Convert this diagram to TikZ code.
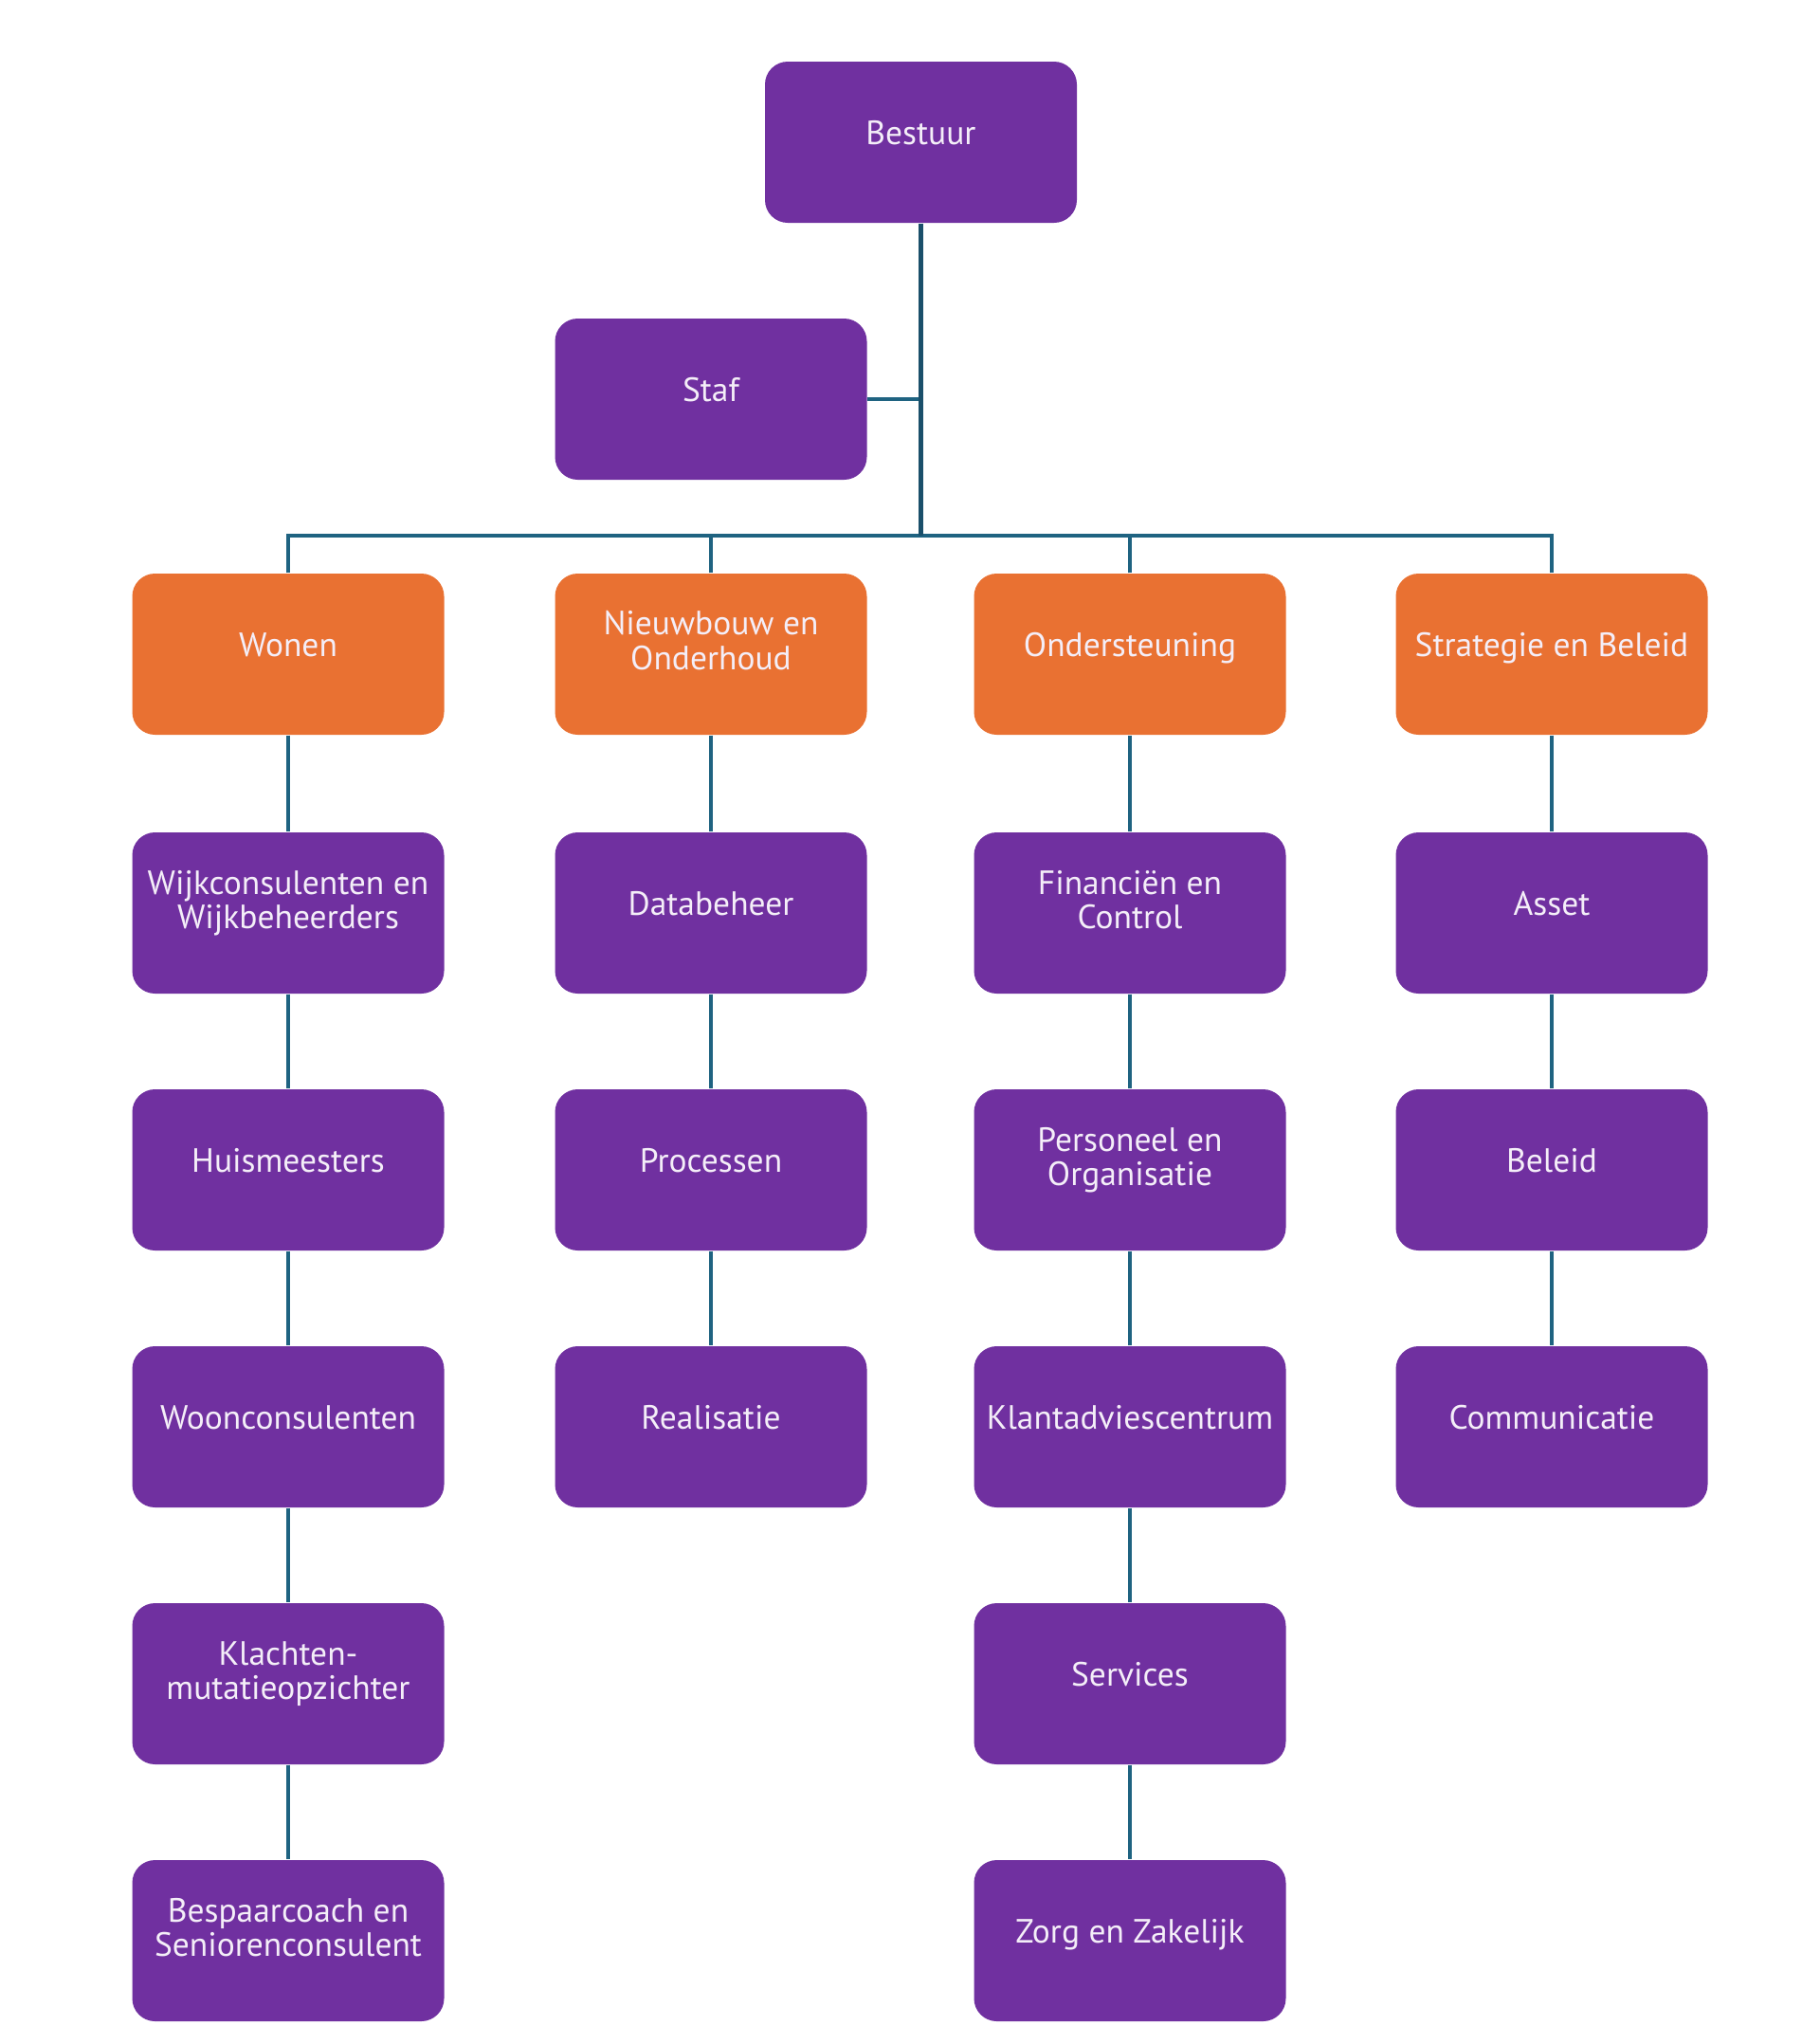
\documentclass[tikz,border=0pt]{standalone}
\usepackage{fontspec}
\setmainfont{PT Sans}
\definecolor{boxpurple}{HTML}{7030A0}
\definecolor{boxorange}{HTML}{E97132}
\definecolor{linkteal}{HTML}{1F6381}
\definecolor{trunkteal}{HTML}{1A4F6A}
\definecolor{txtwhite}{HTML}{F4EEF8}
\newcommand{\boxtxt}[2][0.19cm]{\raisebox{#1}{\begin{tabular}{@{}c@{}}#2\end{tabular}}}
\newcommand{\twotxt}[1]{\boxtxt[0.46cm]{#1}}
\begin{document}
\begin{tikzpicture}[
  unitbox/.style={rectangle, rounded corners=0.24cm, minimum width=3.29cm, minimum height=1.70cm,
    inner sep=0pt, text=txtwhite, font=\fontsize{10.1}{10.5}\selectfont, draw=none},
  purplebox/.style={unitbox, fill=boxpurple},
  orangebox/.style={unitbox, fill=boxorange},
  link/.style={draw=linkteal, line width=0.9pt},
  trunk/.style={draw=trunkteal, line width=1.3pt}
]
\useasboundingbox (0,0) rectangle (19.2,-21.56);
\fill[white] (0,0) rectangle (19.2,-21.56);

% top
\node[purplebox] (bestuur) at (9.715,-1.50) {\boxtxt{Bestuur}};
\node[purplebox] (staf) at (7.50,-4.21) {\boxtxt{Staf}};

% orange row
\node[orangebox] (wonen) at (3.04,-6.90) {\boxtxt{Wonen}};
\node[orangebox] (nieuw) at (7.50,-6.90) {\twotxt{Nieuwbouw en\\Onderhoud}};
\node[orangebox] (onder) at (11.92,-6.90) {\boxtxt{Ondersteuning}};
\node[orangebox] (strat) at (16.37,-6.90) {\boxtxt{Strategie en Beleid}};

% column 1
\node[purplebox] (wijk) at (3.04,-9.63) {\twotxt{Wijkconsulenten en\\Wijkbeheerders}};
\node[purplebox] (huis) at (3.04,-12.34) {\boxtxt{Huismeesters}};
\node[purplebox] (woon) at (3.04,-15.05) {\boxtxt{Woonconsulenten}};
\node[purplebox] (klacht) at (3.04,-17.76) {\twotxt{Klachten-\\mutatieopzichter}};
\node[purplebox] (bespaar) at (3.04,-20.47) {\twotxt{Bespaarcoach en\\Seniorenconsulent}};

% column 2
\node[purplebox] (data) at (7.50,-9.63) {\boxtxt{Databeheer}};
\node[purplebox] (proc) at (7.50,-12.34) {\boxtxt{Processen}};
\node[purplebox] (real) at (7.50,-15.05) {\boxtxt{Realisatie}};

% column 3
\node[purplebox] (fin) at (11.92,-9.63) {\twotxt{Financiën en\\Control}};
\node[purplebox] (pers) at (11.92,-12.34) {\twotxt{Personeel en\\Organisatie}};
\node[purplebox] (klant) at (11.92,-15.05) {\boxtxt{Klantadviescentrum}};
\node[purplebox] (serv) at (11.92,-17.76) {\boxtxt{Services}};
\node[purplebox] (zorg) at (11.92,-20.47) {\boxtxt{Zorg en Zakelijk}};

% column 4
\node[purplebox] (asset) at (16.37,-9.63) {\boxtxt{Asset}};
\node[purplebox] (beleid) at (16.37,-12.34) {\boxtxt{Beleid}};
\node[purplebox] (comm) at (16.37,-15.05) {\boxtxt{Communicatie}};

% connectors at top
\coordinate (bus) at (bestuur.south |- 0,-5.65);
\draw[link] (wonen.north) |- (bus);
\draw[link] (strat.north) |- (bus);
\draw[link] (nieuw.north) -- (nieuw.north |- bus);
\draw[link] (onder.north) -- (onder.north |- bus);
\draw[link] (staf.east) -- (staf.east -| bestuur.south);
\draw[trunk] (bestuur.south) -- (bus);

% column connectors
\draw[link] (wonen) -- (wijk);
\draw[link] (wijk) -- (huis);
\draw[link] (huis) -- (woon);
\draw[link] (woon) -- (klacht);
\draw[link] (klacht) -- (bespaar);
\draw[link] (nieuw) -- (data);
\draw[link] (data) -- (proc);
\draw[link] (proc) -- (real);
\draw[link] (onder) -- (fin);
\draw[link] (fin) -- (pers);
\draw[link] (pers) -- (klant);
\draw[link] (klant) -- (serv);
\draw[link] (serv) -- (zorg);
\draw[link] (strat) -- (asset);
\draw[link] (asset) -- (beleid);
\draw[link] (beleid) -- (comm);
\end{tikzpicture}
\end{document}
